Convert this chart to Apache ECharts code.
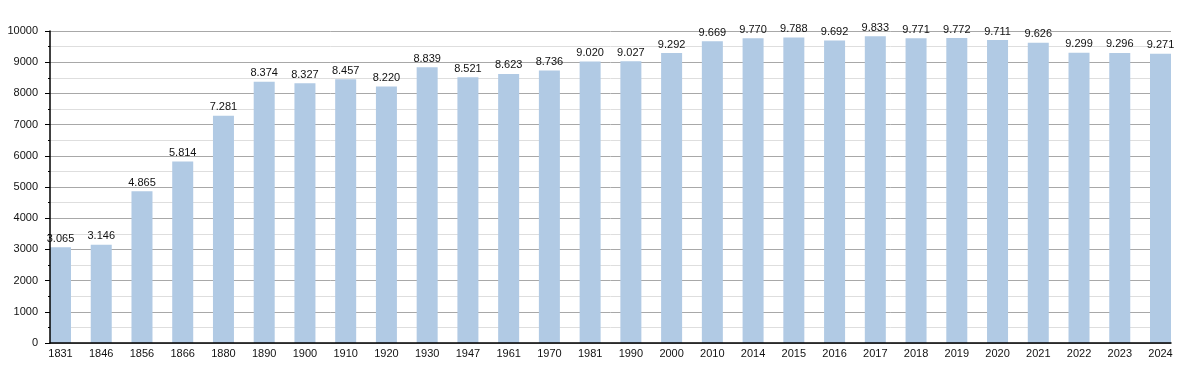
<!DOCTYPE html>
<html>
<head>
<meta charset="utf-8">
<script src="https://cdn.jsdelivr.net/npm/echarts@6/dist/echarts.min.js"></script>
<style>html,body{margin:0;padding:0;background:#fff}#c{width:1200px;height:373px}</style>
</head>
<body>
<div id="c"></div>
<script>
const years = ['1831','1846','1856','1866','1880','1890','1900','1910','1920','1930','1947','1961','1970','1981','1990','2000','2010','2014','2015','2016','2017','2018','2019','2020','2021','2022','2023','2024'];
const population = [3065,3146,4865,5814,7281,8374,8327,8457,8220,8839,8521,8623,8736,9020,9027,9292,9669,9770,9788,9692,9833,9771,9772,9711,9626,9299,9296,9271];
const yTicks = [0,1000,2000,3000,4000,5000,6000,7000,8000,9000,10000];

function fmt(v){ return String(v).replace(/\B(?=(\d{3})+(?!\d))/g, '.'); }

const chart = echarts.init(document.getElementById('c'), null, {renderer:'canvas'});
const idx = years.map((_, i) => i);
const pad = 0.2577;
const xMin = -pad, xMax = years.length - 1 + pad;
const font = 'Liberation Sans, Arial, sans-serif';
chart.setOption({
  animation:false,
  grid:{left:50, right:29, top:31, bottom:30, containLabel:false},
  xAxis:[{
    type:'value', min:xMin, max:xMax,
    axisLine:{show:false},
    axisTick:{show:false},
    splitLine:{show:false},
    axisLabel:{
      customValues: idx,
      formatter: v => years[Math.round(v)],
      color:'#111', fontFamily:font, fontSize:11, margin:5
    }
  },{
    type:'value', min:xMin, max:xMax, position:'bottom', z:5,
    axisLine:{show:true, onZero:false, lineStyle:{color:'#000', width:1.5}},
    axisTick:{show:false}, splitLine:{show:false}, axisLabel:{show:false}
  }],
  yAxis:[{
    type:'value', min:0, max:10000, interval:1000,
    axisLine:{show:false, onZero:false},
    axisTick:{show:true, length:5, lineStyle:{color:'#000'}},
    minorTick:{show:true, splitNumber:2, length:2, lineStyle:{color:'#000'}},
    splitLine:{show:true, lineStyle:{color:'#a8a8a8', width:1}},
    minorSplitLine:{show:true, lineStyle:{color:'#dedede', width:1}},
    axisLabel:{
      customValues: yTicks,
      formatter: v => String(v),
      color:'#111', fontFamily:font, fontSize:11, margin:12
    }
  },{
    type:'value', min:0, max:10000, interval:1000, position:'left', z:5,
    axisLine:{show:true, onZero:false, lineStyle:{color:'#000', width:1.5}},
    axisTick:{show:false}, splitLine:{show:false}, axisLabel:{show:false}
  }],
  series:[{
    type:'bar',
    xAxisIndex:0, yAxisIndex:0,
    barWidth:21,
    data: population.map((v,i)=>[idx[i], v]),
    itemStyle:{color:'#b1cae4'},
    label:{
      show:true, position:'top', distance:3,
      formatter: p => fmt(p.value[1]),
      color:'#111', fontFamily:font, fontSize:11
    }
  }]
});
</script>
</body>
</html>
